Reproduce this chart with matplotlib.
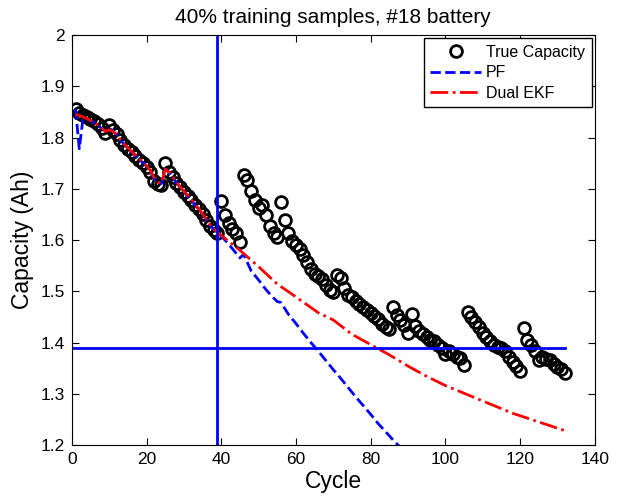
import matplotlib
matplotlib.use("Agg")
import matplotlib.pyplot as plt

# measured capacity of battery #18, cycles 1..132
capacity = [
    1.856, 1.848, 1.844, 1.840, 1.836, 1.832, 1.826, 1.818, 1.808, 1.824,
    1.815, 1.806, 1.795, 1.786, 1.778, 1.771, 1.764, 1.757, 1.750, 1.743,
    1.733, 1.715, 1.709, 1.708, 1.750, 1.733, 1.722, 1.712, 1.703, 1.693,
    1.686, 1.678, 1.668, 1.660, 1.650, 1.640, 1.628, 1.620, 1.614, 1.676,
    1.649, 1.634, 1.622, 1.613, 1.596, 1.727, 1.717, 1.695, 1.678, 1.663,
    1.668, 1.649, 1.627, 1.613, 1.606, 1.675, 1.640, 1.614, 1.598, 1.590,
    1.583, 1.570, 1.557, 1.543, 1.534, 1.530, 1.523, 1.512, 1.503, 1.499,
    1.532, 1.525, 1.507, 1.493, 1.488, 1.481, 1.475, 1.469, 1.464, 1.458,
    1.452, 1.445, 1.437, 1.430, 1.426, 1.470, 1.454, 1.444, 1.434, 1.418,
    1.455, 1.432, 1.422, 1.416, 1.410, 1.405, 1.402, 1.396, 1.390, 1.377,
    1.383, 1.377, 1.371, 1.369, 1.356, 1.460, 1.450, 1.440, 1.430, 1.418,
    1.410, 1.403, 1.396, 1.392, 1.389, 1.384, 1.372, 1.362, 1.355, 1.344,
    1.428, 1.405, 1.395, 1.383, 1.366, 1.372, 1.368, 1.365, 1.358, 1.352,
    1.348, 1.340,
]
cycles = list(range(1, len(capacity) + 1))

n_train = 39          # 40% of the samples used for training
threshold = 1.39      # failure threshold (Ah)

# filter estimates over the training cycles 1..39
pf_train = [
    1.855, 1.778, 1.838, 1.836, 1.833, 1.829, 1.824, 1.817, 1.812, 1.818,
    1.813, 1.805, 1.795, 1.787, 1.779, 1.772, 1.765, 1.758, 1.751, 1.744,
    1.735, 1.720, 1.712, 1.710, 1.738, 1.732, 1.722, 1.712, 1.703, 1.694,
    1.686, 1.678, 1.668, 1.660, 1.650, 1.640, 1.629, 1.621, 1.615,
]
ekf_train = [
    1.845, 1.843, 1.840, 1.837, 1.833, 1.829, 1.824, 1.818, 1.812, 1.815,
    1.812, 1.805, 1.796, 1.788, 1.780, 1.773, 1.766, 1.759, 1.752, 1.745,
    1.736, 1.722, 1.713, 1.711, 1.738, 1.733, 1.723, 1.713, 1.704, 1.695,
    1.687, 1.679, 1.669, 1.661, 1.651, 1.641, 1.630, 1.622, 1.615,
]

# predictions after the training part
pf_pred_cycles = [39, 41, 43, 45, 46, 48, 50, 52, 54, 55, 56, 58, 60, 62, 64,
                  66, 68, 70, 72, 74, 76, 78, 80, 82, 84, 86, 88, 90]
pf_pred = [1.615, 1.600, 1.583, 1.565, 1.572, 1.540, 1.522, 1.503, 1.487,
           1.480, 1.478, 1.455, 1.437, 1.418, 1.400, 1.383, 1.365, 1.347,
           1.330, 1.312, 1.294, 1.277, 1.260, 1.242, 1.226, 1.210, 1.195, 1.180]
ekf_pred_cycles = [39, 45, 50, 55, 60, 66, 70, 75, 80, 85, 90, 95, 100, 106,
                   111, 118, 125, 132]
ekf_pred = [1.615, 1.580, 1.548, 1.514, 1.489, 1.458, 1.444, 1.416, 1.396,
            1.376, 1.354, 1.334, 1.316, 1.298, 1.283, 1.262, 1.245, 1.228]

pf_x = cycles[:n_train] + pf_pred_cycles[1:]
pf_y = pf_train + pf_pred[1:]
ekf_x = cycles[:n_train] + ekf_pred_cycles[1:]
ekf_y = ekf_train + ekf_pred[1:]

plt.rcParams['font.family'] = ['Liberation Sans', 'DejaVu Sans']

fig = plt.figure(figsize=(6.3, 5.0), dpi=100)
ax = fig.add_axes([0.114, 0.11, 0.83, 0.82])

ax.plot(cycles, capacity, 'o', mfc='none', mec='black', mew=2, ms=8.5,
        label='True Capacity')
ax.plot(pf_x, pf_y, '--', color='blue', lw=2, label='PF')
ax.plot(ekf_x, ekf_y, '-.', color='red', lw=2, label='Dual EKF')

ax.axvline(n_train, color='blue', lw=2)
ax.plot([0, len(capacity)], [threshold, threshold], '-', color='blue', lw=2)

ax.set_xlim(0, 140)
ax.set_ylim(1.2, 2.0)
ax.set_xticks(range(0, 141, 20))
ax.set_yticks([1.2, 1.3, 1.4, 1.5, 1.6, 1.7, 1.8, 1.9, 2.0])
ax.set_yticklabels(['1.2', '1.3', '1.4', '1.5', '1.6', '1.7', '1.8', '1.9', '2'])
ax.tick_params(direction='in', top=True, right=True, labelsize=12.5,
               length=5, pad=5)

ax.set_xlabel('Cycle', fontsize=16.5, labelpad=2)
ax.set_ylabel('Capacity (Ah)', fontsize=16.5, labelpad=5)
ax.set_title('40% training samples, #18 battery', fontsize=15, pad=9)

leg = ax.legend(loc='upper right', fontsize=11.5, fancybox=False,
                edgecolor='black', framealpha=1, borderaxespad=0.2,
                handlelength=3.2, handletextpad=0.3, labelspacing=0.35,
                borderpad=0.4)
leg.get_frame().set_linewidth(1)

fig.savefig('out.png', dpi=100)
